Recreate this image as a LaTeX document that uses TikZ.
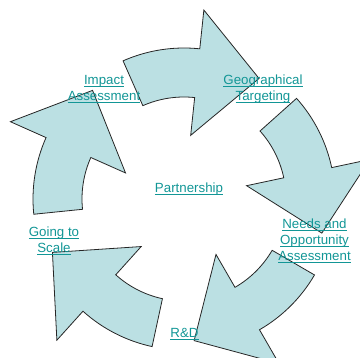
\documentclass[tikz,border=0pt]{standalone}
\usepackage{fontspec}
\setmainfont{Liberation Sans}
\definecolor{cyclefill}{RGB}{187,224,227}
\definecolor{linkteal}{RGB}{18,150,150}
% underline at a fixed depth, like a hyperlink
\newcommand{\ul}[1]{\setbox0\hbox{#1}\rlap{\rule[-2.2pt]{\wd0}{0.9pt}}\box0}

\begin{document}
\begin{tikzpicture}[x=1pt, y=1pt,
  stage/.style={fill=cyclefill, draw=black!85, line width=0.8pt, line join=miter},
  lbl/.style={text=linkteal, align=center, anchor=base, inner sep=0pt,
    font=\fontsize{13.3}{16}\selectfont}]
\useasboundingbox (-184,-159) rectangle (176,199);
\clip (-184,-159) rectangle (176,199);

% five curved arrows round the cycle
\foreach \k in {0,...,4}{
  \pgfmathsetmacro\a{113.8-72*\k}
  \pgfmathsetmacro\b{\a-29.8}
  \pgfmathsetmacro\c{\a-55.7}
  \draw[stage] (\a:151) arc[start angle=\a, end angle=\b, radius=151]
    -- (\b:190) -- (\c:142) -- (\b:64) -- (\b:102)
    arc[start angle=\b, end angle=\a, radius=102] -- cycle;
}

% labels (base = last line)
\node[lbl] (impact) at (-80,98.7) {\ul{Impact}\\\ul{Assessment}};
\node[lbl] (geo) at (79,98.7) {\ul{Geographical}\\\ul{Targeting}};
\node[lbl] (partner) at (5,6.7) {\ul{Partnership}};
\node[lbl] (needs) at (130.5,-61.3) {\ul{Needs and}\\\ul{Opportunity}\\\ul{Assessment}};
\node[lbl] (rnd) at (0.5,-138.3) {\ul{R\&D}};
\node[lbl] (scale) at (-130,-53.3) {\ul{Going to}\\\ul{Scale}};
\end{tikzpicture}
\end{document}
